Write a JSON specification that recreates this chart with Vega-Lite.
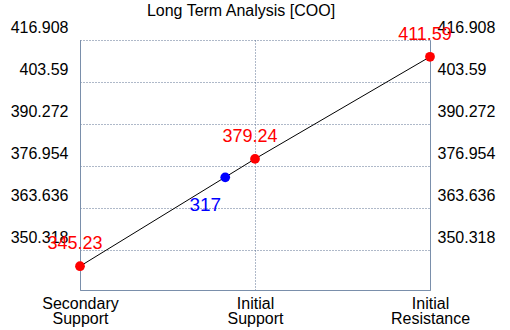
{
  "$schema": "https://vega.github.io/schema/vega-lite/v6.json",
  "width": 350,
  "height": 250,
  "autosize": {"type": "none"},
  "padding": {"left": 80, "top": 40, "right": 80, "bottom": 40},
  "background": "white",
  "title": {
    "text": "Long Term Analysis [COO]",
    "font": "Liberation Sans",
    "fontSize": 16,
    "fontWeight": "normal",
    "color": "black",
    "anchor": "middle",
    "offset": 0,
    "dx": -14
  },
  "config": {
    "view": {"stroke": null},
    "axis": {"labelFont": "Liberation Sans", "labelFontSize": 16, "labelColor": "black", "ticks": false, "title": null, "domainColor": "#7a8fab", "gridColor": "#5f7392", "gridDash": [1, 2], "gridWidth": 1}
  },
  "data": {
    "values": [
      {"x": 0, "y": 345.23, "kind": "red", "txt": "345.23"},
      {"x": 0.83, "y": 373.4, "kind": "blue", "txt": "317"},
      {"x": 1, "y": 379.24, "kind": "red", "txt": "379.24"},
      {"x": 2, "y": 411.59, "kind": "red", "txt": "411.59"}
    ]
  },
  "resolve": {"axis": {"y": "independent"}},
  "layer": [
    {
      "transform": [{"filter": "datum.kind == 'red'"}],
      "mark": {"type": "line", "color": "black", "strokeWidth": 1},
      "encoding": {
        "x": {"field": "x", "type": "quantitative", "scale": {"domain": [0, 2]},
          "axis": {"values": [0, 1, 2], "grid": true, "labelFlush": false, "labelOverlap": false, "labelPadding": 5, "labelBaseline": "top", "labelLineHeight": 15,
            "labelExpr": "datum.value == 0 ? ['Secondary', 'Support'] : datum.value == 1 ? ['Initial', 'Support'] : ['Initial', 'Resistance']"}},
        "y": {"field": "y", "type": "quantitative", "scale": {"domain": [337.7, 416.908], "nice": false, "zero": false},
          "axis": {"orient": "left", "values": [350.318, 363.636, 376.954, 390.272, 403.59, 416.908], "grid": true, "labelPadding": 12, "labelOffset": -13, "labelExpr": "'' + datum.value"}}
      }
    },
    {
      "mark": {"type": "point", "filled": true, "opacity": 1, "size": 95},
      "encoding": {
        "x": {"field": "x", "type": "quantitative"},
        "y": {"field": "y", "type": "quantitative",
          "axis": {"orient": "right", "values": [350.318, 363.636, 376.954, 390.272, 403.59, 416.908], "grid": false, "labelPadding": 7, "labelOffset": -13, "labelExpr": "'' + datum.value"}},
        "color": {"field": "kind", "type": "nominal", "scale": {"domain": ["red", "blue"], "range": ["#ff0000", "#0000ff"]}, "legend": null}
      }
    },
    {
      "transform": [{"filter": "datum.kind == 'red'"}],
      "mark": {"type": "text", "font": "Liberation Sans", "fontSize": 18, "align": "center", "baseline": "middle", "dx": -5, "dy": -22, "color": "#ff0000"},
      "encoding": {
        "x": {"field": "x", "type": "quantitative"},
        "y": {"field": "y", "type": "quantitative", "axis": null},
        "text": {"field": "txt"}
      }
    },
    {
      "transform": [{"filter": "datum.kind == 'blue'"}],
      "mark": {"type": "text", "font": "Liberation Sans", "fontSize": 19, "align": "center", "baseline": "middle", "dx": -20, "dy": 28, "color": "#0000ff"},
      "encoding": {
        "x": {"field": "x", "type": "quantitative"},
        "y": {"field": "y", "type": "quantitative", "axis": null},
        "text": {"field": "txt"}
      }
    }
  ]
}
